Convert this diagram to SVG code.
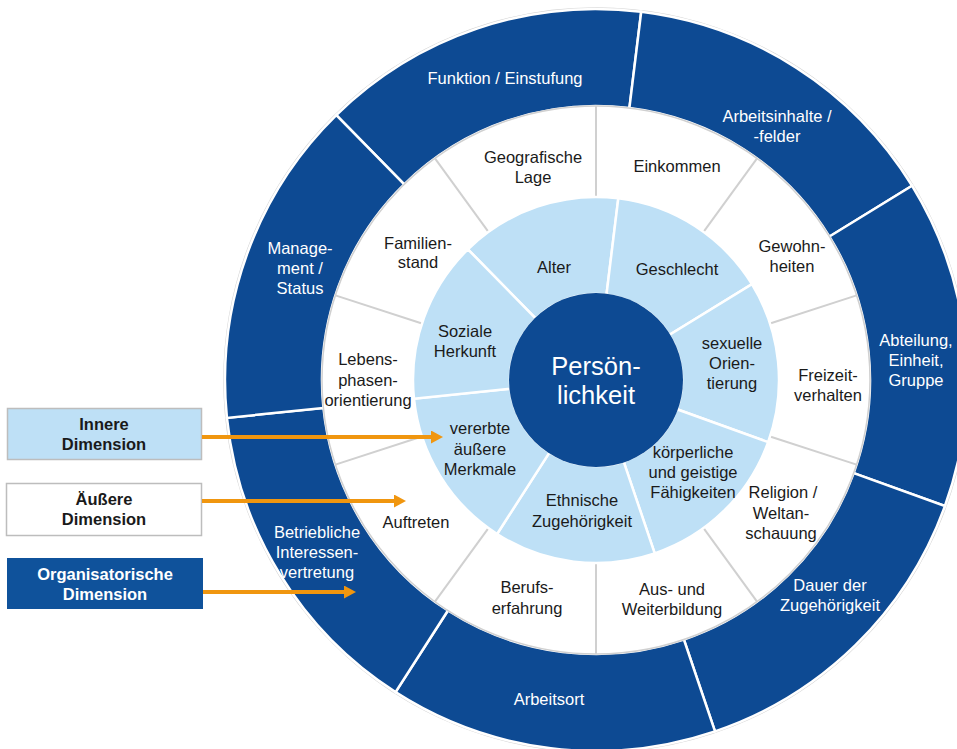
<svg xmlns="http://www.w3.org/2000/svg" width="957" height="749" viewBox="0 0 957 749">
<defs>
<style>
text{font-family:"Liberation Sans",Arial,sans-serif;font-size:16.5px;text-anchor:middle}
.dk{fill:#0D4A93;stroke:#fff;stroke-width:2.5}
.wh{fill:#fff}
.lb{fill:#BEE0F6;stroke:#fff;stroke-width:2.5}
.tw{fill:#fff}
.tb{fill:#1A1A1A}
.bx{font-weight:bold}
.gl{stroke:#D0D0D0;stroke-width:2}
.ar{stroke:#F0960F;stroke-width:4;fill:none;marker-end:url(#ah)}
</style>
<marker id="ah" markerUnits="userSpaceOnUse" markerWidth="12" markerHeight="13" refX="1" refY="6.5" orient="auto">
<path d="M0,0 L12,6.5 L0,13 Z" fill="#F0960F"/>
</marker>
</defs>
<rect width="957" height="749" fill="#fff"/>
<circle cx="596" cy="380" r="372" fill="none" stroke="#D4D4D4" stroke-width="1.5"/>
<g id="outer-ring">
<g id="funktion"><path class="dk" d="M336.29,115.07 A371,371 0 0 1 641.21,11.76 L629.39,108.04 A274,274 0 0 0 404.19,184.33 Z"/><text class="tw" x="505" y="84">Funktion / Einstufung</text></g>
<g id="arbeitsinhalte"><path class="dk" d="M641.21,11.76 A371,371 0 0 1 912.10,185.76 L829.46,236.54 A274,274 0 0 0 629.39,108.04 Z"/><text class="tw" x="777" y="122">Arbeitsinhalte /</text><text class="tw" x="777" y="142">-felder</text></g>
<g id="abteilung"><path class="dk" d="M912.10,185.76 A371,371 0 0 1 944.94,506.04 L853.71,473.08 A274,274 0 0 0 829.46,236.54 Z"/><text class="tw" x="916" y="346">Abteilung,</text><text class="tw" x="916" y="366">Einheit,</text><text class="tw" x="916" y="386">Gruppe</text></g>
<g id="dauer"><path class="dk" d="M944.94,506.04 A371,371 0 0 1 715.01,731.40 L683.89,639.52 A274,274 0 0 0 853.71,473.08 Z"/><text class="tw" x="830" y="591">Dauer der</text><text class="tw" x="830" y="611">Zugehörigkeit</text></g>
<g id="arbeitsort"><path class="dk" d="M715.01,731.40 A371,371 0 0 1 395.51,692.17 L447.93,610.55 A274,274 0 0 0 683.89,639.52 Z"/><text class="tw" x="549" y="705">Arbeitsort</text></g>
<g id="betriebliche"><path class="dk" d="M395.51,692.17 A371,371 0 0 1 226.94,417.88 L323.43,407.98 A274,274 0 0 0 447.93,610.55 Z"/><text class="tw" x="317" y="538">Betriebliche</text><text class="tw" x="317" y="558">Interessen-</text><text class="tw" x="317" y="578">vertretung</text></g>
<g id="management"><path class="dk" d="M226.94,417.88 A371,371 0 0 1 336.29,115.07 L404.19,184.33 A274,274 0 0 0 323.43,407.98 Z"/><text class="tw" x="300" y="254">Manage-</text><text class="tw" x="300" y="274">ment /</text><text class="tw" x="300" y="294">Status</text></g>
</g>
<g id="middle-ring">
<g id="einkommen"><path class="wh" d="M596,106 A274,274 0 0 1 757.05,158.33 L703.57,231.95 A183,183 0 0 0 596,197 Z"/><text class="tb" x="677" y="172">Einkommen</text></g>
<g id="gewohnheiten"><path class="wh" d="M757.05,158.33 A274,274 0 0 1 856.59,295.33 L770.04,323.45 A183,183 0 0 0 703.57,231.95 Z"/><text class="tb" x="792" y="252">Gewohn-</text><text class="tb" x="792" y="272">heiten</text></g>
<g id="freizeit"><path class="wh" d="M856.59,295.33 A274,274 0 0 1 856.59,464.67 L770.04,436.55 A183,183 0 0 0 770.04,323.45 Z"/><text class="tb" x="828" y="381">Freizeit-</text><text class="tb" x="828" y="401">verhalten</text></g>
<g id="religion"><path class="wh" d="M856.59,464.67 A274,274 0 0 1 757.05,601.67 L703.57,528.05 A183,183 0 0 0 770.04,436.55 Z"/><text class="tb" x="783" y="498">Religion /</text><text class="tb" x="781" y="519">Weltan-</text><text class="tb" x="781" y="539">schauung</text></g>
<g id="ausbildung"><path class="wh" d="M757.05,601.67 A274,274 0 0 1 596,654 L596,563 A183,183 0 0 0 703.57,528.05 Z"/><text class="tb" x="672" y="595">Aus- und</text><text class="tb" x="672" y="615">Weiterbildung</text></g>
<g id="berufserfahrung"><path class="wh" d="M596,654 A274,274 0 0 1 434.95,601.67 L488.43,528.05 A183,183 0 0 0 596,563 Z"/><text class="tb" x="527" y="593">Berufs-</text><text class="tb" x="527" y="614">erfahrung</text></g>
<g id="auftreten"><path class="wh" d="M434.95,601.67 A274,274 0 0 1 335.41,464.67 L421.96,436.55 A183,183 0 0 0 488.43,528.05 Z"/><text class="tb" x="416" y="528">Auftreten</text></g>
<g id="lebensphasen"><path class="wh" d="M335.41,464.67 A274,274 0 0 1 335.41,295.33 L421.96,323.45 A183,183 0 0 0 421.96,436.55 Z"/><text class="tb" x="368" y="365">Lebens-</text><text class="tb" x="368" y="386">phasen-</text><text class="tb" x="368" y="406">orientierung</text></g>
<g id="familienstand"><path class="wh" d="M335.41,295.33 A274,274 0 0 1 434.95,158.33 L488.43,231.95 A183,183 0 0 0 421.96,323.45 Z"/><text class="tb" x="418" y="249">Familien-</text><text class="tb" x="418" y="268">stand</text></g>
<g id="geografische"><path class="wh" d="M434.95,158.33 A274,274 0 0 1 596,106 L596,197 A183,183 0 0 0 488.43,231.95 Z"/><text class="tb" x="533" y="163">Geografische</text><text class="tb" x="533" y="183">Lage</text></g>
<g id="middle-dividers">
<circle cx="596" cy="380" r="274" fill="none" stroke="#D0D0D0" stroke-width="1.5"/>
<line class="gl" x1="596" y1="106" x2="596" y2="197"/>
<line class="gl" x1="757.05" y1="158.33" x2="703.57" y2="231.95"/>
<line class="gl" x1="856.59" y1="295.33" x2="770.04" y2="323.45"/>
<line class="gl" x1="856.59" y1="464.67" x2="770.04" y2="436.55"/>
<line class="gl" x1="757.05" y1="601.67" x2="703.57" y2="528.05"/>
<line class="gl" x1="596" y1="654" x2="596" y2="563"/>
<line class="gl" x1="434.95" y1="601.67" x2="488.43" y2="528.05"/>
<line class="gl" x1="335.41" y1="464.67" x2="421.96" y2="436.55"/>
<line class="gl" x1="335.41" y1="295.33" x2="421.96" y2="323.45"/>
<line class="gl" x1="434.95" y1="158.33" x2="488.43" y2="231.95"/>
</g>
</g>
<g id="inner-ring">
<g id="alter"><path class="lb" d="M467.89,249.32 A183,183 0 0 1 618.30,198.36 L606.48,294.64 A86,86 0 0 0 535.80,318.59 Z"/><text class="tb" x="554" y="273">Alter</text></g>
<g id="geschlecht"><path class="lb" d="M618.30,198.36 A183,183 0 0 1 751.92,284.19 L669.27,334.97 A86,86 0 0 0 606.48,294.64 Z"/><text class="tb" x="677" y="275">Geschlecht</text></g>
<g id="sexuelle"><path class="lb" d="M751.92,284.19 A183,183 0 0 1 768.12,442.17 L676.89,409.22 A86,86 0 0 0 669.27,334.97 Z"/><text class="tb" x="732" y="349">sexuelle</text><text class="tb" x="732" y="369">Orien-</text><text class="tb" x="732" y="389">tierung</text></g>
<g id="koerperliche"><path class="lb" d="M768.12,442.17 A183,183 0 0 1 654.70,553.33 L623.59,461.46 A86,86 0 0 0 676.89,409.22 Z"/><text class="tb" x="693" y="458">körperliche</text><text class="tb" x="693" y="478">und geistige</text><text class="tb" x="693" y="498">Fähigkeiten</text></g>
<g id="ethnische"><path class="lb" d="M654.70,553.33 A183,183 0 0 1 497.11,533.98 L549.53,452.36 A86,86 0 0 0 623.59,461.46 Z"/><text class="tb" x="582" y="506">Ethnische</text><text class="tb" x="582" y="527">Zugehörigkeit</text></g>
<g id="vererbte"><path class="lb" d="M497.11,533.98 A183,183 0 0 1 413.96,398.68 L510.45,388.78 A86,86 0 0 0 549.53,452.36 Z"/><text class="tb" x="480" y="434">vererbte</text><text class="tb" x="480" y="455">äußere</text><text class="tb" x="480" y="475">Merkmale</text></g>
<g id="soziale"><path class="lb" d="M413.96,398.68 A183,183 0 0 1 467.89,249.32 L535.80,318.59 A86,86 0 0 0 510.45,388.78 Z"/><text class="tb" x="465" y="337">Soziale</text><text class="tb" x="465" y="357">Herkunft</text></g>
</g>
<g id="persoenlichkeit">
<circle cx="596" cy="380" r="87" fill="#0D4A93"/>
<text class="tw" x="596" y="375" style="font-size:25.5px">Persön-</text>
<text class="tw" x="596" y="404" style="font-size:25.5px">lichkeit</text>
</g>
<g id="innere">
<rect x="7.5" y="408.5" width="194" height="51" fill="#BEE0F6" stroke="#BDBDBD" stroke-width="1.5"/>
<text class="tb bx" x="104" y="430">Innere</text><text class="tb bx" x="104" y="450">Dimension</text>
</g>
<g id="aeussere">
<rect x="6.5" y="483.5" width="195" height="52" fill="#fff" stroke="#BDBDBD" stroke-width="1.5"/>
<text class="tb bx" x="104" y="505">Äußere</text><text class="tb bx" x="104" y="525">Dimension</text>
</g>
<g id="organisatorische">
<rect x="7" y="558" width="196" height="51" fill="#0F529B"/>
<text class="tw bx" x="105" y="580">Organisatorische</text><text class="tw bx" x="105" y="600">Dimension</text>
</g>
<g id="connectors">
<line class="ar" x1="202" y1="437" x2="432" y2="437"/>
<line class="ar" x1="202" y1="501" x2="395" y2="501"/>
<line class="ar" x1="203" y1="592" x2="345" y2="592"/>
</g>
</svg>
